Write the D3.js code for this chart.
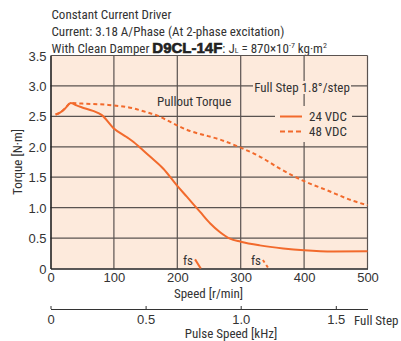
<!DOCTYPE html>
<html><head><meta charset="utf-8">
<script src="https://cdn.jsdelivr.net/npm/d3@7"></script>
<style>
body{margin:0;background:#fff;}
svg{display:block;font-family:"Liberation Sans Narrow","Arial Narrow","Roboto Condensed","Liberation Sans",Arial,sans-serif;}
</style></head>
<body><svg id="c" width="401" height="341"></svg>
<script>
// ---- data ----
const speed24  = [8,15,23,32,41,49,67,81,99,120,131,141,157,178,199,215,236,252,267,283,300,330,367,400,446,500];
const torque24 = [2.53,2.56,2.63,2.72,2.68,2.65,2.59,2.52,2.31,2.16,2.08,1.99,1.84,1.64,1.37,1.18,0.93,0.74,0.60,0.49,0.44,0.38,0.33,0.30,0.28,0.285];
const speed48  = [8,15,23,32,50,89,131,154,167,183,204,220,236,267,299,330,362,399,435,478,500];
const torque48 = [2.53,2.56,2.63,2.72,2.71,2.69,2.63,2.56,2.52,2.44,2.33,2.26,2.21,2.12,1.99,1.84,1.64,1.44,1.29,1.11,1.04];
const fs24 = [[228,0.15],[237,0]];
const fs48 = [[335,0.14],[344,0]];
const speedTicks = [0,100,200,300,400,500];
const torqueTicks = [0,0.5,1.0,1.5,2.0,2.5,3.0,3.5];
const pulseTicks = [0,0.5,1.0,1.5];
const seriesNames = ["24 VDC","48 VDC"];

const svg = d3.select("#c");
const ORANGE = "#f26a2c", BG = "#fdeadc", GRID = "#5a5350";
const x = d3.scaleLinear().domain([0,500]).range([50.5,367.5]);
const y = d3.scaleLinear().domain([0,3.5]).range([268.5,55.5]);
const xp = d3.scaleLinear().domain([0,500/300]).range([50.5,367.5]);

// header text
const hdr = svg.append("g").attr("font-size",13).attr("fill","#333");
hdr.append("text").attr("x",51.5).attr("y",19).text("Constant Current Driver");
hdr.append("text").attr("x",51.5).attr("y",36).text("Current: 3.18 A/Phase (At 2-phase excitation)");
const t3 = hdr.append("text").attr("x",51.5).attr("y",53);
t3.append("tspan").text("With Clean Damper ");
t3.append("tspan").attr("font-weight","bold").attr("font-size",15).attr("font-family","Liberation Sans, Arial, sans-serif")
  .attr("fill","#222").attr("stroke","#222").attr("stroke-width",0.6).text("D9CL-14F");
t3.append("tspan").text(": J");
t3.append("tspan").attr("font-size",8).text("L");
t3.append("tspan").text(" = 870×10");
t3.append("tspan").attr("font-size",8).attr("dy",-5).text("-7");
t3.append("tspan").attr("dy",5).text(" kg·m");
t3.append("tspan").attr("font-size",8).attr("dy",-5).text("2");

// plot background
svg.append("rect").attr("x",x(0)).attr("y",y(3.5)).attr("width",x(500)-x(0)).attr("height",y(0)-y(3.5)).attr("fill",BG);

// grid
const g = svg.append("g").attr("stroke",GRID).attr("stroke-width",1.2);
g.selectAll(".h").data(torqueTicks.slice(1)).join("line")
  .attr("x1",x(0)).attr("x2",x(500)).attr("y1",d=>y(d)).attr("y2",d=>y(d));
g.selectAll(".v").data(speedTicks.slice(1)).join("line")
  .attr("y1",y(0)).attr("y2",y(3.5)).attr("x1",d=>x(d)).attr("x2",d=>x(d));

// legend background patches (cover grid)
svg.append("rect").attr("x",253).attr("y",81).attr("width",98).attr("height",13).attr("fill",BG);
svg.append("rect").attr("x",275).attr("y",106).attr("width",77).attr("height",36).attr("fill",BG);

// axes
const xAxis = d3.axisBottom(x).tickValues(speedTicks).tickSize(0).tickPadding(4).tickFormat(d3.format("d"));
const gx = svg.append("g").attr("transform",`translate(0,${y(0)})`).call(xAxis);
gx.select(".domain").attr("stroke","#222").attr("stroke-width",1.6);
const yAxis = d3.axisLeft(y).tickValues(torqueTicks).tickSize(0).tickPadding(4).tickFormat(d=>d===0?"0":d3.format(".1f")(d));
const gy = svg.append("g").attr("transform",`translate(${x(0)},0)`).call(yAxis);
gy.select(".domain").attr("stroke","#222").attr("stroke-width",1.6);
[gx,gy].forEach(a=>a.selectAll("text").attr("font-family",null).attr("font-size",13).attr("fill","#333"));
gy.selectAll("text").attr("dy","0.35em");

svg.append("text").attr("x",208.5).attr("y",297.5).attr("text-anchor","middle").attr("font-size",13).attr("fill","#333").text("Speed [r/min]");
svg.append("text").attr("transform","translate(22,162) rotate(-90)").attr("text-anchor","middle").attr("font-size",13).attr("fill","#333").text("Torque [N·m]");

// pulse axis
const pAxis = d3.axisTop(xp).tickValues(pulseTicks).tickSize(3).tickSizeOuter(0).tickFormat(d=>d===0?"0":d3.format(".1f")(d));
const gp = svg.append("g").attr("transform","translate(0,309)").call(pAxis);
gp.select(".domain").attr("stroke","#333").attr("stroke-width",1);
gp.selectAll(".tick line").attr("stroke","#333");
gp.selectAll("text").attr("font-family",null).attr("font-size",13).attr("fill","#333").attr("y",6).attr("dy","0.71em");
svg.append("text").attr("x",354).attr("y",324.5).attr("font-size",13).attr("fill","#333").text("Full Step");
svg.append("text").attr("x",231).attr("y",338).attr("text-anchor","middle").attr("font-size",13).attr("fill","#333").text("Pulse Speed [kHz]");

// curves
const line = d3.line().x(d=>x(d[0])).y(d=>y(d[1])).curve(d3.curveMonotoneX);
const d24 = speed24.map((s,i)=>[s,torque24[i]]);
const d48 = speed48.map((s,i)=>[s,torque48[i]]);
svg.append("path").attr("d",line(d48)).attr("fill","none").attr("stroke",ORANGE).attr("stroke-width",2).attr("stroke-dasharray","4,3");
svg.append("path").attr("d",line(d24)).attr("fill","none").attr("stroke",ORANGE).attr("stroke-width",2);
const seg = d3.line().x(d=>x(d[0])).y(d=>y(d[1]));
svg.append("path").attr("d",seg(fs24)).attr("stroke",ORANGE).attr("stroke-width",2).attr("fill","none");
svg.append("path").attr("d",seg(fs48)).attr("stroke",ORANGE).attr("stroke-width",2).attr("fill","none").attr("stroke-dasharray","3,3");

// labels
const lab = svg.append("g").attr("font-size",13).attr("fill","#333");
lab.append("text").attr("x",183).attr("y",265).text("fs");
lab.append("text").attr("x",251).attr("y",265).text("fs");
lab.append("text").attr("x",157).attr("y",106).text("Pullout Torque");
lab.append("text").attr("x",302).attr("y",92).attr("text-anchor","middle").text("Full Step 1.8°/step");
// legend
const lg = svg.append("g");
seriesNames.forEach((n,i)=>{
  const yy = 116.5 + i*15;
  lg.append("line").attr("x1",280).attr("x2",302).attr("y1",yy).attr("y2",yy).attr("stroke",ORANGE).attr("stroke-width",2)
    .attr("stroke-dasharray", i===1 ? "5,3" : null);
  lg.append("text").attr("x",309).attr("y",yy+4.5).attr("font-size",13).attr("fill","#333").text(n);
});
</script></body></html>
